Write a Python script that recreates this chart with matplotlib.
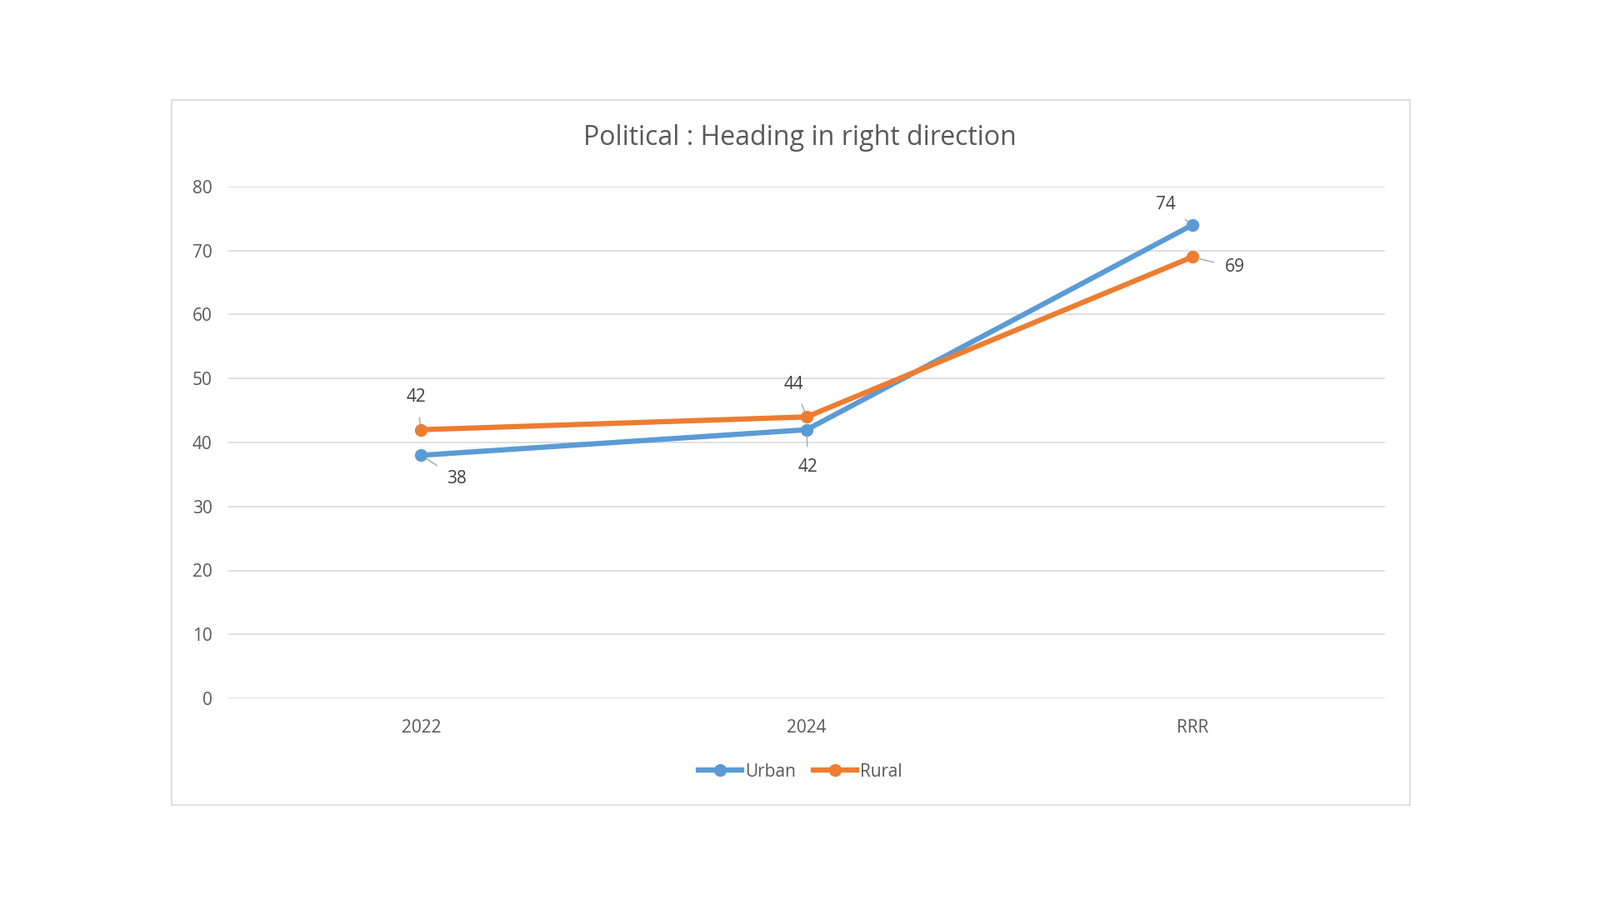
import matplotlib
matplotlib.use("Agg")
import matplotlib.pyplot as plt
from matplotlib.patches import Rectangle

categories = ["2022", "2024", "RRR"]
urban = [38, 42, 74]
rural = [42, 44, 69]
yticks = [0, 10, 20, 30, 40, 50, 60, 70, 80]

plt.rcParams["font.family"] = "Open Sans"
fig = plt.figure(figsize=(19.2, 10.8), dpi=100)
fig.patches.append(Rectangle((206/1920, 1-966/1080), (1692-206)/1920, (966-120)/1080,
                             transform=fig.transFigure, fill=False, edgecolor="#d9d9d9", lw=1.2))
ax = fig.add_axes([274/1920, 1-838/1080, (1662-274)/1920, (838-224)/1080])
x = list(range(len(categories)))
blue, orange = "#5B9BD5", "#ED7D31"
ax.plot(x, urban, color=blue, lw=4.5, marker="o", ms=10, label="Urban", zorder=3)
ax.plot(x, rural, color=orange, lw=4.5, marker="o", ms=10, label="Rural", zorder=3)
ax.set_xlim(-0.5, 2.5)
ax.set_ylim(0, 80)
ax.set_yticks(yticks)
ax.set_xticks(x)
ax.set_xticklabels(categories)
ax.grid(axis="y", color="#d9d9d9", lw=1.2)
ax.set_axisbelow(True)
for s in ax.spines.values():
    s.set_visible(False)
ax.tick_params(length=0, labelsize=15, colors="#595959", pad=14)
ax.tick_params(axis="x", pad=18)

def lab(xi, yi, txt, dx, dy):
    ax.annotate(txt, (xi, yi), xytext=(dx, dy), textcoords="offset points",
                fontsize=15, color="#404040", ha="center", va="center",
                arrowprops=dict(arrowstyle="-", color="#a6a6a6", lw=1, shrinkA=8, shrinkB=5))
lab(0, urban[0], str(urban[0]), 31, -20)
lab(1, urban[1], str(urban[1]), 1, -32)
lab(2, urban[2], str(urban[2]), -23, 18)
lab(0, rural[0], str(rural[0]), -4, 28)
lab(1, rural[1], str(rural[1]), -11, 28)
lab(2, rural[2], str(rural[2]), 37, -9)

fig.text(0.5, 1-166/1080, "Political : Heading in right direction", ha="center", va="center",
         fontsize=23, color="#595959")
fig.legend(loc="center", bbox_to_anchor=(0.5, 1-926/1080), ncol=2, frameon=False,
           fontsize=15, labelcolor="#595959", handlelength=2.5, columnspacing=1, handletextpad=0.2)
fig.savefig("out.png", dpi=100, facecolor="white")
